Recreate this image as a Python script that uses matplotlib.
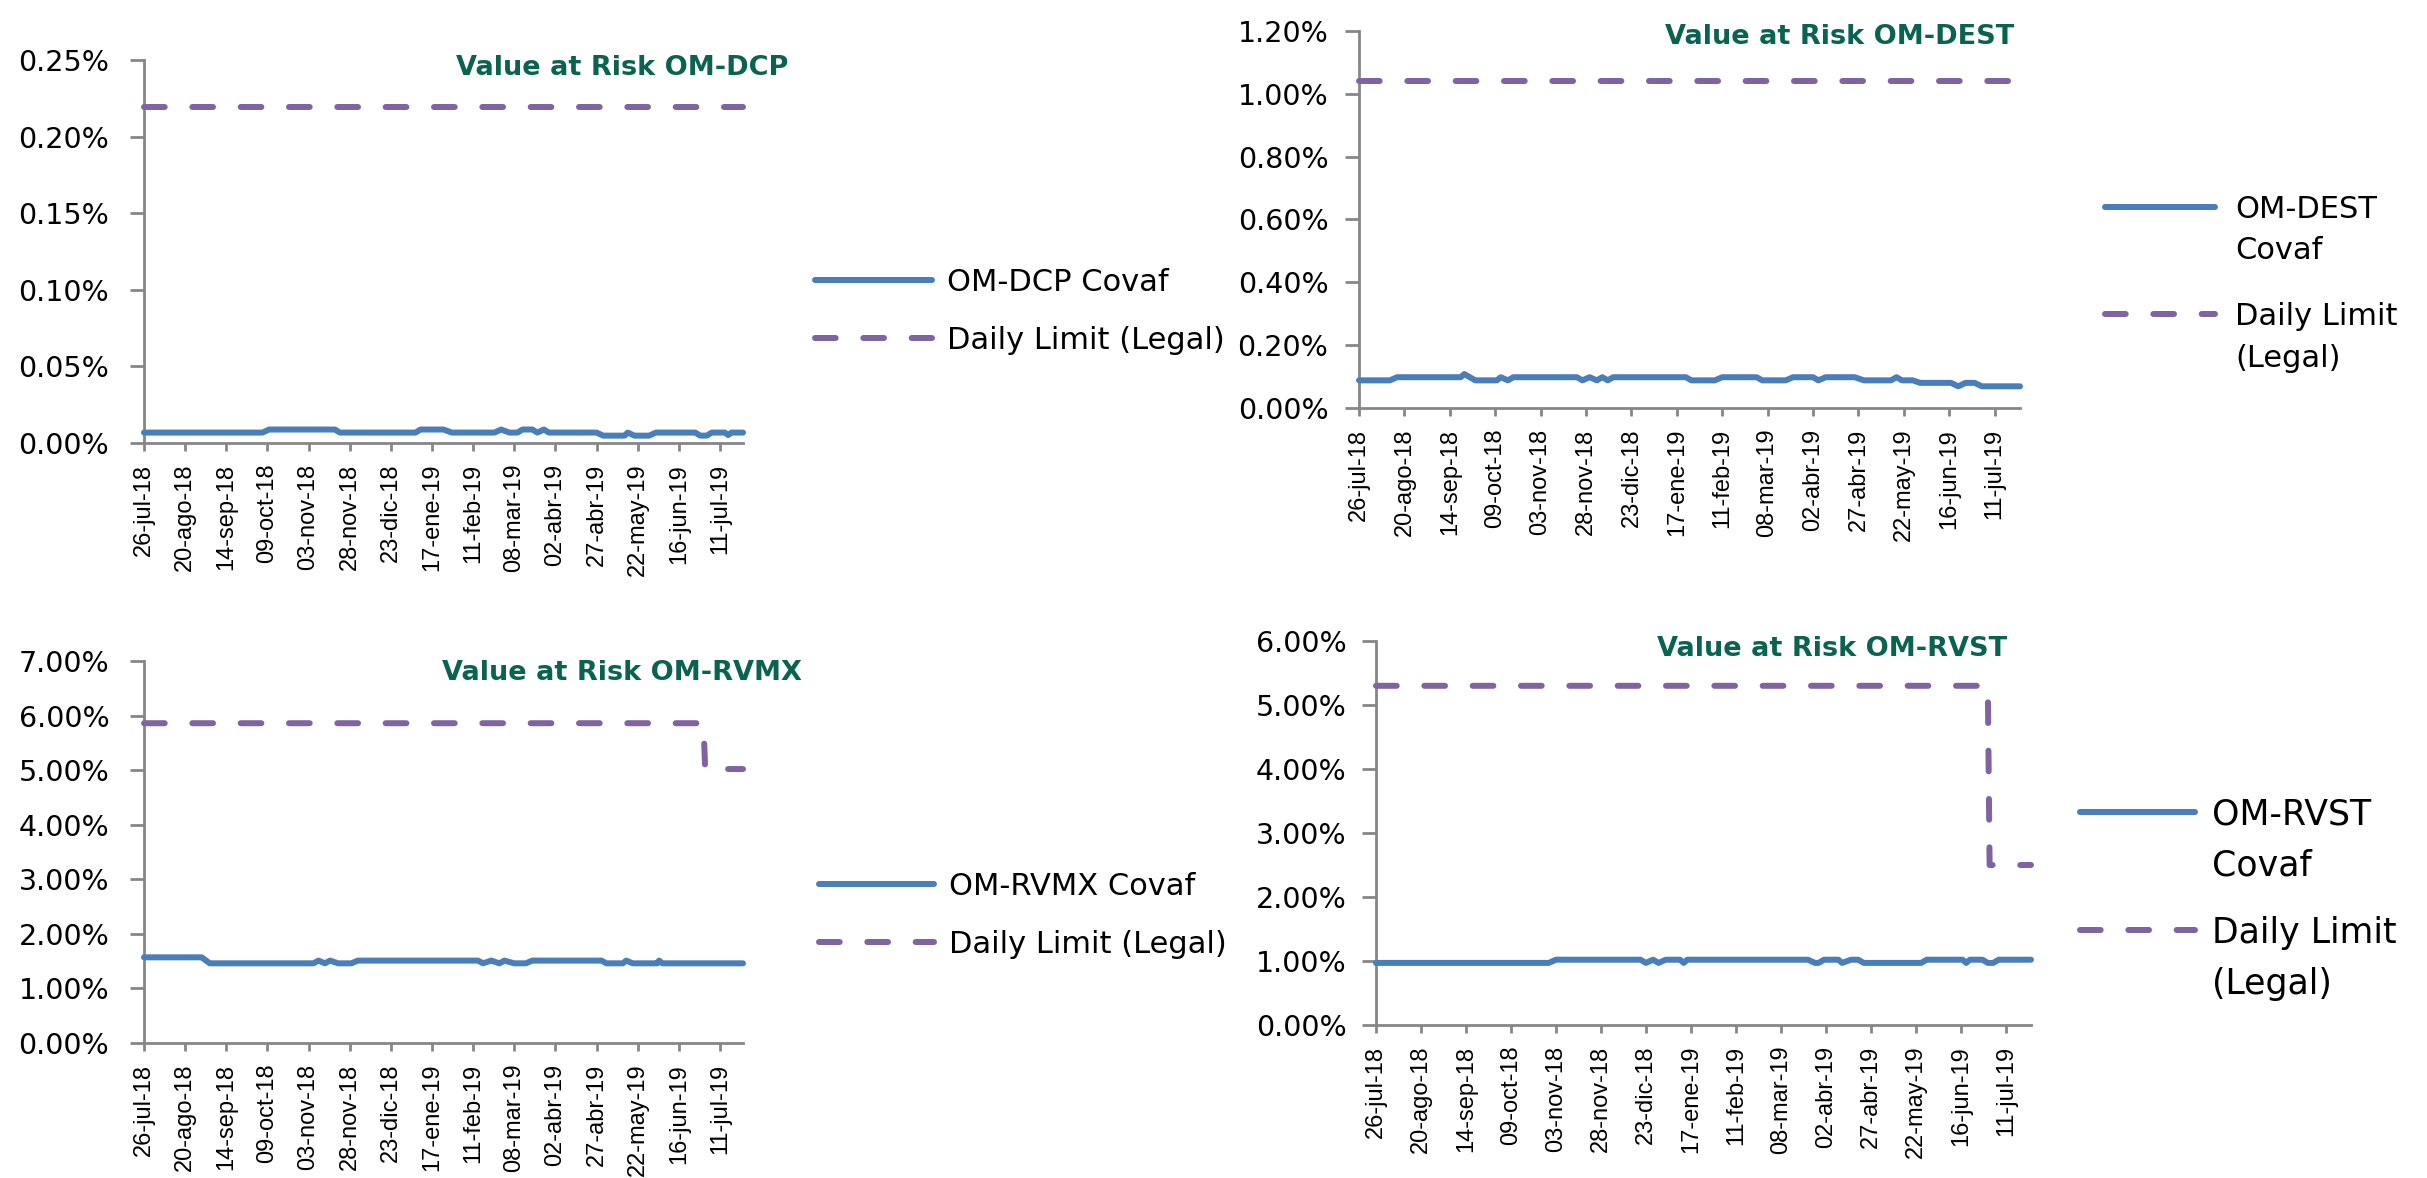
import numpy as np
import matplotlib
matplotlib.use("Agg")
import matplotlib.pyplot as plt
import matplotlib.dates as mdates
from matplotlib.lines import Line2D
from matplotlib.ticker import FuncFormatter, FixedLocator
from matplotlib import font_manager

# ---------------- DATA ----------------
START_DATE = "2018-07-26"
LAST_DAY = 364  # days after START_DATE (24-jul-19)

TICK_DATES = ["2018-07-26", "2018-08-20", "2018-09-14", "2018-10-09", "2018-11-03",
              "2018-11-28", "2018-12-23", "2019-01-17", "2019-02-11", "2019-03-08",
              "2019-04-02", "2019-04-27", "2019-05-22", "2019-06-16", "2019-07-11"]
TICK_LABELS = ["26-jul-18", "20-ago-18", "14-sep-18", "09-oct-18", "03-nov-18",
               "28-nov-18", "23-dic-18", "17-ene-19", "11-feb-19", "08-mar-19",
               "02-abr-19", "27-abr-19", "22-may-19", "16-jun-19", "11-jul-19"]

# OM-DCP (values in %), x = days after START_DATE
DCP_COVAF_DAYS = [0, 72, 76, 116, 119, 165, 168, 182, 187, 213, 217, 222, 227, 230, 236,
                  239, 243, 246, 275, 279, 292, 294, 298, 307, 311, 335, 338, 342, 345,
                  353, 355, 357, 364]
DCP_COVAF = [0.0068, 0.0068, 0.0088, 0.0088, 0.0068, 0.0068, 0.0088, 0.0088, 0.0068,
             0.0068, 0.0088, 0.0068, 0.0068, 0.0088, 0.0088, 0.0068, 0.0088, 0.0068,
             0.0068, 0.0048, 0.0048, 0.0068, 0.0048, 0.0048, 0.0068, 0.0068, 0.0048,
             0.0048, 0.0068, 0.0068, 0.0052, 0.0068, 0.0068]
DCP_LIMIT_DAYS = [0, 364]
DCP_LIMIT = [0.219, 0.219]

# OM-DEST
DEST_COVAF_DAYS = [0, 17, 21, 56, 58, 61, 64, 76, 78, 82, 85, 120, 123, 127, 131, 134,
                   137, 140, 180, 183, 196, 200, 219, 222, 235, 239, 250, 253, 257, 273,
                   278, 293, 296, 299, 305, 309, 326, 330, 334, 339, 343, 364]
DEST_COVAF = [0.088, 0.088, 0.098, 0.098, 0.108, 0.098, 0.088, 0.088, 0.098, 0.088,
              0.098, 0.098, 0.088, 0.098, 0.088, 0.098, 0.088, 0.098, 0.098, 0.088,
              0.088, 0.098, 0.098, 0.088, 0.088, 0.098, 0.098, 0.088, 0.098, 0.098,
              0.088, 0.088, 0.098, 0.088, 0.088, 0.080, 0.080, 0.069, 0.080, 0.080,
              0.069, 0.069]
DEST_LIMIT_DAYS = [0, 364]
DEST_LIMIT = [1.04, 1.04]

# OM-RVMX
RVMX_COVAF_DAYS = [0, 35, 40, 103, 106, 110, 113, 118, 126, 130, 203, 206, 211, 216,
                   219, 225, 232, 236, 278, 281, 291, 293, 297, 312, 313, 315, 364]
RVMX_COVAF = [1.57, 1.57, 1.46, 1.46, 1.51, 1.46, 1.51, 1.46, 1.46, 1.51, 1.51, 1.46,
              1.51, 1.46, 1.51, 1.46, 1.46, 1.51, 1.51, 1.46, 1.46, 1.51, 1.46, 1.46,
              1.51, 1.46, 1.46]
RVMX_LIMIT_DAYS = [0, 340, 341, 364]
RVMX_LIMIT = [5.86, 5.86, 5.02, 5.02]

# OM-RVST
RVST_COVAF_DAYS = [0, 96, 100, 147, 150, 154, 157, 161, 169, 171, 173, 240, 244, 246,
                   249, 257, 259, 264, 268, 271, 303, 306, 326, 328, 330, 337, 340, 343,
                   346, 364]
RVST_COVAF = [0.97, 0.97, 1.02, 1.02, 0.97, 1.02, 0.97, 1.02, 1.02, 0.97, 1.02, 1.02,
              0.97, 0.97, 1.02, 1.02, 0.97, 1.02, 1.02, 0.97, 0.97, 1.02, 1.02, 0.97,
              1.02, 1.02, 0.97, 0.97, 1.02, 1.02]
RVST_LIMIT_DAYS = [0, 340, 341, 364]
RVST_LIMIT = [5.30, 5.30, 2.50, 2.50]

TITLES = ["Value at Risk OM-DCP", "Value at Risk OM-DEST",
          "Value at Risk OM-RVMX", "Value at Risk OM-RVST"]
COVAF_LABELS = [["OM-DCP Covaf"], ["OM-DEST", "Covaf"], ["OM-RVMX Covaf"], ["OM-RVST", "Covaf"]]
LIMIT_LABELS = [["Daily Limit (Legal)"], ["Daily Limit", "(Legal)"],
                ["Daily Limit (Legal)"], ["Daily Limit", "(Legal)"]]
Y_MAX = [0.25, 1.20, 7.0, 6.0]
Y_STEP = [0.05, 0.20, 1.0, 1.0]

# ---------------- STYLE / LAYOUT ----------------
BLUE = "#4A7EBB"
PURPLE = "#8064A2"
GREEN = "#0A6350"
AXIS_GRAY = "#868686"
LW_PX = 6.0
LW = LW_PX * 0.72
plt.rcParams["font.family"] = ["DejaVu Sans"]
plt.rcParams["lines.scale_dashes"] = False
DASH = (0, (14.9, 19.9))

_names = {f.name for f in font_manager.fontManager.ttflist}
if "Liberation Sans Narrow" in _names:
    XFONT, XSIZE = "Liberation Sans Narrow", 21
else:
    XFONT, XSIZE = "Liberation Sans", 17

W, H = 2427, 1178
fig = plt.figure(figsize=(W / 100, H / 100), dpi=100)
fig.patch.set_facecolor("white")

# axes boxes in pixels: left, right, top, bottom
BOXES = [(144, 743, 60, 443), (1359, 2020, 31, 408),
         (144, 743, 661, 1043), (1376, 2031, 641, 1025)]
YPAD = [15, 12, 15, 11]
TITLE_POS = [(622, 65), (1840, 34), (622, 670), (1832, 646)]
TITLE_FS = 19.5
# legend: x0, x1 of key, text x, font size, rows [(y_key, [y_text lines])]
LEGENDS = [
    (812, 935, 947, 22, [(280, [280]), (338, [338])]),
    (2102, 2218, 2235, 22, [(206.5, [206.5, 248]), (314, [314, 356])]),
    (816, 937, 949, 22, [(884, [884]), (942, [942])]),
    (2077, 2198, 2212, 25, [(812, [812, 863]), (930, [930, 981])]),
]

series = [
    (DCP_COVAF_DAYS, DCP_COVAF, DCP_LIMIT_DAYS, DCP_LIMIT),
    (DEST_COVAF_DAYS, DEST_COVAF, DEST_LIMIT_DAYS, DEST_LIMIT),
    (RVMX_COVAF_DAYS, RVMX_COVAF, RVMX_LIMIT_DAYS, RVMX_LIMIT),
    (RVST_COVAF_DAYS, RVST_COVAF, RVST_LIMIT_DAYS, RVST_LIMIT),
]

start = np.datetime64(START_DATE)


def to_dates(days):
    return start + np.array(days).astype("timedelta64[D]")


def fy(y):
    return 1 - y / H


def cap_half(fs):
    return 0.729 * fs * 100 / 72 / 2


tick_nums = mdates.date2num(np.array(TICK_DATES, dtype="datetime64[D]"))

for i, (cd, cv, ld, lv) in enumerate(series):
    l, r, t, b = BOXES[i]
    ax = fig.add_axes([l / W, 1 - b / H, (r - l) / W, (b - t) / H])
    ax.plot(to_dates(cd), cv, color=BLUE, lw=LW, solid_capstyle="round",
            solid_joinstyle="round", clip_on=False, zorder=3)
    ax.plot(to_dates(ld), lv, color=PURPLE, lw=LW, linestyle=DASH,
            dash_capstyle="round", dash_joinstyle="round", clip_on=False, zorder=3)
    ax.set_xlim(mdates.date2num(start), mdates.date2num(to_dates([LAST_DAY])[0]))
    ax.set_ylim(0, Y_MAX[i])
    ax.yaxis.set_major_locator(FixedLocator(np.arange(0, Y_MAX[i] + Y_STEP[i] / 2, Y_STEP[i])))
    ax.yaxis.set_major_formatter(FuncFormatter(lambda v, p: f"{v:.2f}%"))
    ax.set_xticks(tick_nums)
    ax.set_xticklabels(TICK_LABELS, rotation=90, fontsize=XSIZE, family=[XFONT, "DejaVu Sans"])
    for s in ("top", "right"):
        ax.spines[s].set_visible(False)
    for s in ("left", "bottom"):
        ax.spines[s].set_color(AXIS_GRAY)
        ax.spines[s].set_linewidth(2.0)
    ax.tick_params(axis="y", direction="out", length=10, width=2, color=AXIS_GRAY,
                   labelsize=20.5, pad=YPAD[i], labelcolor="black")
    ax.tick_params(axis="x", direction="out", length=6, width=2, color=AXIS_GRAY,
                   pad=9, labelcolor="black")
    ax.set_facecolor("none")

    # title
    tx, ty = TITLE_POS[i]
    fig.text(tx / W, fy(ty + cap_half(TITLE_FS)), TITLES[i], fontsize=TITLE_FS,
             fontweight="bold", color=GREEN, ha="center", va="baseline")

    # legend
    x0, x1, xt, fs, rows = LEGENDS[i]
    half = LW_PX / 2
    for k, (yk, ylines) in enumerate(rows):
        kw = dict(color=BLUE, lw=LW, solid_capstyle="round") if k == 0 else \
            dict(color=PURPLE, lw=LW, linestyle=DASH, dash_capstyle="round")
        fig.add_artist(Line2D([(x0 + half) / W, (x1 - half) / W], [fy(yk), fy(yk)],
                              transform=fig.transFigure, **kw))
        labels = COVAF_LABELS[i] if k == 0 else LIMIT_LABELS[i]
        for txt, yl in zip(labels, ylines):
            fig.text(xt / W, fy(yl + cap_half(fs)), txt, fontsize=fs, color="black",
                     ha="left", va="baseline")

fig.savefig("out.png", dpi=100, facecolor="white")
